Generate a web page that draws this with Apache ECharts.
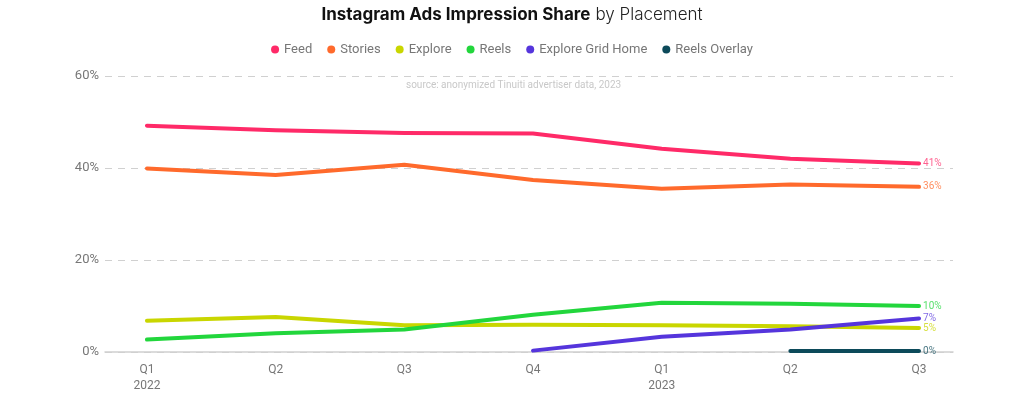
<!DOCTYPE html>
<html>
<head>
<meta charset="utf-8">
<script src="https://cdn.jsdelivr.net/npm/echarts@6/dist/echarts.min.js"></script>
<style>
html,body{margin:0;padding:0;background:#fff;}
#chart{width:1024px;height:396px;}
</style>
</head>
<body>
<div id="chart"></div>
<script>
const categories = ['Q1\n2022','Q2','Q3','Q4','Q1\n2023','Q2','Q3'];
const feed = [49.2, 48.2, 47.6, 47.5, 44.2, 42.0, 41.0];
const stories = [39.9, 38.5, 40.7, 37.4, 35.5, 36.4, 35.9];
const explore = [6.8, 7.6, 5.8, 5.9, 5.8, 5.6, 5.2];
const reels = [2.7, 4.1, 4.9, 8.1, 10.7, 10.5, 10.0];
const exploreGridHome = [null, null, null, 0.3, 3.3, 4.9, 7.3];
const reelsOverlay = [null, null, null, null, null, 0.2, 0.2];
const yTicks = [0, 20, 40, 60];

const seriesDefs = [
  {name:'Feed', data:feed, color:'#ff2a68'},
  {name:'Stories', data:stories, color:'#ff6a2c'},
  {name:'Explore', data:explore, color:'#c9d600'},
  {name:'Reels', data:reels, color:'#22d63c'},
  {name:'Explore Grid Home', data:exploreGridHome, color:'#5535dc'},
  {name:'Reels Overlay', data:reelsOverlay, color:'#0c4a5a'}
];

const FONT = 'Roboto';
const chart = echarts.init(document.getElementById('chart'), null, {renderer:'canvas'});
chart.setOption({
  backgroundColor:'#fff',
  animation:false,
  title:{
    left:'center', top:1,
    text:'{b|Instagram Ads Impression Share} {n|by Placement}',
    textStyle:{
      rich:{
        b:{fontFamily:'Inter', fontWeight:700, fontSize:17, color:'#111'},
        n:{fontFamily:'Inter', fontWeight:300, fontSize:17, color:'#222'}
      }
    }
  },
  legend:{
    top:38, left:'center',
    icon:'circle', itemWidth:8, itemHeight:8, itemGap:15,
    textStyle:{fontFamily:FONT, fontSize:13, color:'#777'},
    data:seriesDefs.map(s=>s.name)
  },
  graphic:[{
    type:'text', left:406, top:80,
    style:{text:'source: anonymized Tinuiti advertiser data, 2023', fontFamily:FONT, fontSize:10, fill:'#c8c8c8'}
  }],
  grid:{left:105, right:71, top:76, bottom:44, containLabel:false},
  xAxis:{
    type:'value', min:-0.326, max:6.264,
    splitLine:{show:false},
    axisTick:{show:false},
    axisLine:{show:true, lineStyle:{color:'#d0d0d0', width:1.5}},
    axisLabel:{
      showMinLabel:false, showMaxLabel:false,
      fontFamily:FONT, fontSize:12, color:'#777', margin:10, lineHeight:16,
      formatter:function(v){ return Number.isInteger(v) && categories[v] !== undefined ? categories[v] : ''; }
    }
  },
  yAxis:{
    type:'value', min:yTicks[0], max:yTicks[yTicks.length-1], interval:20,
    axisLine:{show:false}, axisTick:{show:false},
    splitLine:{show:true, lineStyle:{color:'#d0d0d0', type:[7,6], width:1}},
    axisLabel:{fontFamily:FONT, fontSize:13, color:'#777', margin:6, formatter:'{value}%'}
  },
  series: seriesDefs.map(s=>({
    name:s.name, type:'line',
    data:s.data.map((v,i)=>[i,v]).filter(p=>p[1]!==null),
    showSymbol:false, symbol:'circle',
    lineStyle:{width:4, color:s.color, cap:'round', join:'round'},
    itemStyle:{color:s.color},
    emphasis:{disabled:true},
    z: 2,
    endLabel:{
      show:true, fontFamily:FONT, fontSize:10, color:s.color, opacity:0.75, distance:4,
      formatter:function(p){ return Math.round(p.value[1]) + '%'; }
    }
  }))
});
</script>
</body>
</html>
